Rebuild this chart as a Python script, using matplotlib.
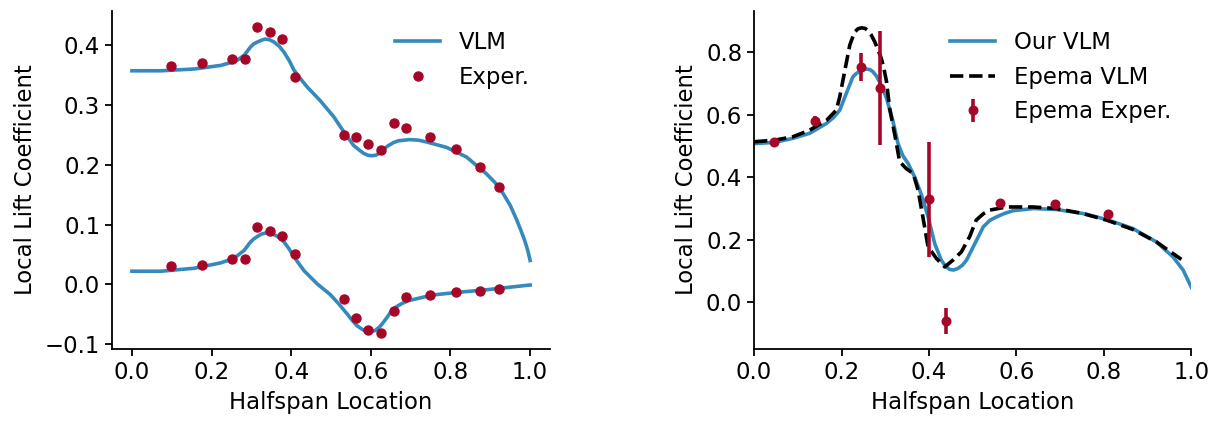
import matplotlib
matplotlib.use("Agg")
import matplotlib.pyplot as plt

# left panel: two spanwise lift distributions
vlm_hi_x = [0.0, 0.073, 0.157, 0.223, 0.250, 0.265, 0.282, 0.290, 0.298, 0.306, 0.315, 0.325,
            0.334, 0.345, 0.357, 0.370, 0.382, 0.395, 0.407, 0.423, 0.440, 0.473, 0.507, 0.532,
            0.557, 0.572, 0.582, 0.592, 0.602, 0.613, 0.623, 0.634, 0.644, 0.657, 0.669, 0.683,
            0.698, 0.720, 0.740, 0.790, 0.840, 0.890, 0.912, 0.932, 0.950, 0.965, 0.977, 0.986,
            0.994, 1.0]
vlm_hi_y = [0.357, 0.357, 0.360, 0.366, 0.371, 0.375, 0.383, 0.390, 0.397, 0.402, 0.405, 0.408,
            0.410, 0.409, 0.405, 0.398, 0.388, 0.374, 0.358, 0.344, 0.330, 0.307, 0.280, 0.255,
            0.232, 0.224, 0.219, 0.216, 0.215, 0.216, 0.220, 0.227, 0.232, 0.237, 0.240, 0.241,
            0.242, 0.241, 0.238, 0.229, 0.213, 0.185, 0.170, 0.152, 0.132, 0.110, 0.090, 0.074,
            0.057, 0.040]
vlm_lo_x = [0.0, 0.073, 0.157, 0.223, 0.250, 0.265, 0.282, 0.290, 0.298, 0.306, 0.315, 0.325,
            0.336, 0.348, 0.361, 0.372, 0.382, 0.395, 0.407, 0.420, 0.432, 0.465, 0.498, 0.520,
            0.540, 0.553, 0.565, 0.578, 0.590, 0.600, 0.611, 0.622, 0.632, 0.643, 0.653, 0.665,
            0.678, 0.695, 0.715, 0.740, 0.765, 0.823, 0.890, 1.0]
vlm_lo_y = [0.022, 0.022, 0.027, 0.036, 0.042, 0.048, 0.057, 0.064, 0.071, 0.076, 0.080, 0.084,
            0.086, 0.085, 0.082, 0.077, 0.071, 0.059, 0.046, 0.034, 0.023, 0.001, -0.017, -0.033,
            -0.049, -0.060, -0.069, -0.075, -0.079, -0.079, -0.077, -0.071, -0.063, -0.053, -0.043,
            -0.037, -0.032, -0.027, -0.024, -0.020, -0.017, -0.013, -0.009, -0.001]

exp_x = [0.097, 0.175, 0.252, 0.283, 0.315, 0.347, 0.377, 0.410, 0.532, 0.562, 0.593, 0.625,
         0.657, 0.688, 0.749, 0.813, 0.874, 0.922]
exp_hi_y = [0.365, 0.370, 0.377, 0.377, 0.431, 0.422, 0.410, 0.346, 0.249, 0.246, 0.235, 0.225,
            0.269, 0.261, 0.247, 0.227, 0.196, 0.162]
exp_lo_y = [0.030, 0.033, 0.042, 0.043, 0.096, 0.089, 0.081, 0.050, -0.025, -0.057, -0.077, -0.082,
            -0.045, -0.021, -0.018, -0.013, -0.011, -0.007]

# right panel: comparison with Epema
our_x = [0.0, 0.047, 0.089, 0.127, 0.166, 0.182, 0.196, 0.211, 0.226, 0.234, 0.242, 0.250,
         0.257, 0.265, 0.272, 0.280, 0.287, 0.295, 0.303, 0.310, 0.318, 0.329, 0.340, 0.352,
         0.367, 0.383, 0.398, 0.413, 0.428, 0.438, 0.447, 0.456, 0.466, 0.476, 0.486, 0.501,
         0.513, 0.524, 0.539, 0.554, 0.572, 0.592, 0.638, 0.691, 0.752, 0.806, 0.866, 0.920,
         0.958, 0.981, 1.0]
our_y = [0.508, 0.512, 0.525, 0.541, 0.573, 0.592, 0.615, 0.669, 0.722, 0.733, 0.740, 0.745,
         0.747, 0.745, 0.738, 0.724, 0.706, 0.682, 0.653, 0.618, 0.578, 0.509, 0.470, 0.445,
         0.402, 0.343, 0.273, 0.188, 0.135, 0.115, 0.105, 0.103, 0.108, 0.118, 0.135, 0.177,
         0.210, 0.241, 0.262, 0.273, 0.284, 0.293, 0.300, 0.297, 0.284, 0.265, 0.236, 0.193,
         0.145, 0.103, 0.047]
epema_x = [0.0, 0.047, 0.089, 0.127, 0.166, 0.188, 0.196, 0.207, 0.219, 0.230, 0.238, 0.246,
           0.254, 0.261, 0.268, 0.276, 0.283, 0.291, 0.297, 0.303, 0.310, 0.322, 0.333, 0.348,
           0.364, 0.375, 0.386, 0.398, 0.417, 0.436, 0.455, 0.474, 0.493, 0.508, 0.524, 0.539,
           0.577, 0.638, 0.691, 0.752, 0.806, 0.866, 0.920, 0.977]
epema_y = [0.514, 0.519, 0.530, 0.551, 0.583, 0.615, 0.658, 0.738, 0.824, 0.866, 0.876, 0.879,
           0.877, 0.869, 0.856, 0.834, 0.810, 0.781, 0.748, 0.706, 0.621, 0.535, 0.450, 0.428,
           0.412, 0.359, 0.273, 0.177, 0.140, 0.113, 0.135, 0.161, 0.210, 0.263, 0.283, 0.295,
           0.305, 0.305, 0.300, 0.284, 0.263, 0.233, 0.193, 0.137]
epema_exp_x = [0.046, 0.140, 0.245, 0.287, 0.401, 0.439, 0.563, 0.688, 0.809]
epema_exp_y = [0.512, 0.580, 0.754, 0.687, 0.330, -0.060, 0.319, 0.315, 0.283]
epema_exp_err = [0.005, 0.015, 0.044, 0.183, 0.184, 0.042, 0.005, 0.005, 0.005]

blue = "#348ABD"
red = "#A60628"
plt.rcParams["font.size"] = 16.4

fig = plt.figure(figsize=(12.15, 4.21), dpi=100)
ax1 = fig.add_axes([0.0922, 0.171, 0.3605, 0.803])
ax2 = fig.add_axes([0.6206, 0.171, 0.3600, 0.803])

ax1.plot(vlm_hi_x, vlm_hi_y, color=blue, lw=2.6, label="VLM")
ax1.plot(vlm_lo_x, vlm_lo_y, color=blue, lw=2.6)
ax1.plot(exp_x, exp_hi_y, "o", color=red, ms=6.5, label="Exper.")
ax1.plot(exp_x, exp_lo_y, "o", color=red, ms=6.5)
ax1.set_xlim(-0.05, 1.05)
ax1.set_ylim(-0.108, 0.457)
ax1.set_xticks([0.0, 0.2, 0.4, 0.6, 0.8, 1.0])
ax1.set_yticks([-0.1, 0.0, 0.1, 0.2, 0.3, 0.4])

ax2.plot(our_x, our_y, color=blue, lw=2.6, label="Our VLM")
ax2.plot(epema_x, epema_y, "--", color="black", lw=2.6, label="Epema VLM")
ax2.errorbar(epema_exp_x, epema_exp_y, yerr=epema_exp_err, fmt="o", color=red, ms=6.2,
             elinewidth=2.6, capsize=0, label="Epema Exper.")
ax2.set_xlim(0, 1)
ax2.set_ylim(-0.15, 0.933)
ax2.set_xticks([0.0, 0.2, 0.4, 0.6, 0.8, 1.0])
ax2.set_yticks([0.0, 0.2, 0.4, 0.6, 0.8])

for ax in (ax1, ax2):
    ax.spines["top"].set_visible(False)
    ax.spines["right"].set_visible(False)
    ax.spines["left"].set_linewidth(1.3)
    ax.spines["bottom"].set_linewidth(1.3)
    ax.tick_params(length=5, width=1.3)
    ax.set_xlabel("Halfspan Location", labelpad=5)
    ax.set_ylabel("Local Lift Coefficient", labelpad=6)
    ax.legend(loc="upper right", frameon=False)

fig.savefig("out.png")
